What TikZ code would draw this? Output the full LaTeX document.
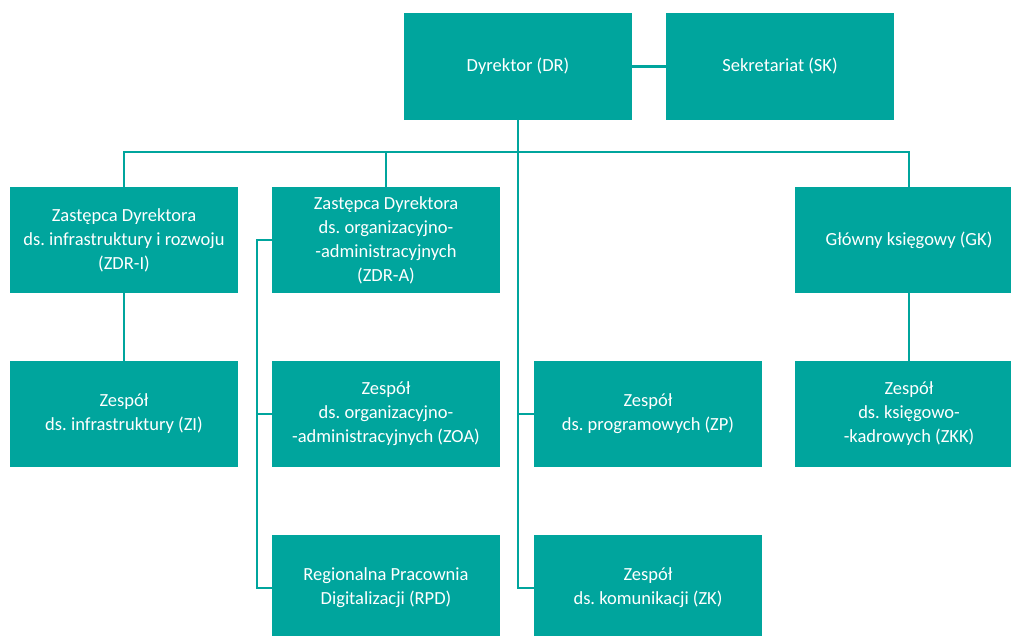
\documentclass[tikz,border=0pt]{standalone}
\usepackage{fontspec}
\setmainfont{Carlito}
\frenchspacing
\definecolor{morski}{RGB}{0,165,157}
\tikzset{
  jednostka/.style={fill=morski, text=white, minimum width=228pt, minimum height=106pt,
    align=center, inner sep=0pt, font=\fontsize{18.5}{24}\selectfont},
  linia/.style={draw=morski, line width=2.4pt}
}
\begin{document}
\begin{tikzpicture}[x=1pt, y=-1pt]
\useasboundingbox (0,0) rectangle (1011,636);

% ---- dyrekcja ----
\node[jednostka, minimum height=107pt] (dr) at (518,66.5) {Dyrektor (DR)};
\node[jednostka, minimum height=107pt] (sk) at (780,66.5) {Sekretariat (SK)};

% ---- zastepcy i ksiegowy ----
\node[jednostka] (zdri) at (124,240) {Zastępca Dyrektora\\ds. infrastruktury i rozwoju\\(ZDR-I)};
\node[jednostka] (zdra) at (386,240) {Zastępca Dyrektora\\ds. organizacyjno-\\-administracyjnych\\(ZDR-A)};
\node[jednostka] (gk) at (909,240) {Główny księgowy (GK)};

% ---- zespoly ----
\node[jednostka] (zi) at (124,414) {Zespół\\ds. infrastruktury (ZI)};
\node[jednostka] (zoa) at (386,414) {Zespół\\ds. organizacyjno-\\-administracyjnych (ZOA)};
\node[jednostka] (zp) at (648,414) {Zespół\\ds. programowych (ZP)};
\node[jednostka] (zkk) at (909,414) {Zespół\\ds. księgowo-\\-kadrowych (ZKK)};
\node[jednostka] (rpd) at (386,588) {Regionalna Pracownia\\Digitalizacji (RPD)};
\node[jednostka] (zk) at (648,588) {Zespół\\ds. komunikacji (ZK)};

% ---- polaczenia ----
\coordinate (szyna) at (517,152);
\coordinate (pion) at (257,0);
\draw[linia] (dr) -- (sk);
\draw[linia] (zdri.north) |- (szyna) -| (gk.north);
\draw[linia] (zdra.north) -- (zdra.north |- szyna);
\draw[linia] (dr.south) -- (dr.south |- zk.west) -- (zk.west);
\draw[linia] (dr.south |- zp.west) -- (zp.west);
\draw[linia] (zdri) -- (zi);
\draw[linia] (gk) -- (zkk);
\draw[linia] (zdra.west) -- (zdra.west -| pion) -- (rpd.west -| pion) -- (rpd.west);
\draw[linia] (zoa.west -| pion) -- (zoa.west);
\end{tikzpicture}
\end{document}
